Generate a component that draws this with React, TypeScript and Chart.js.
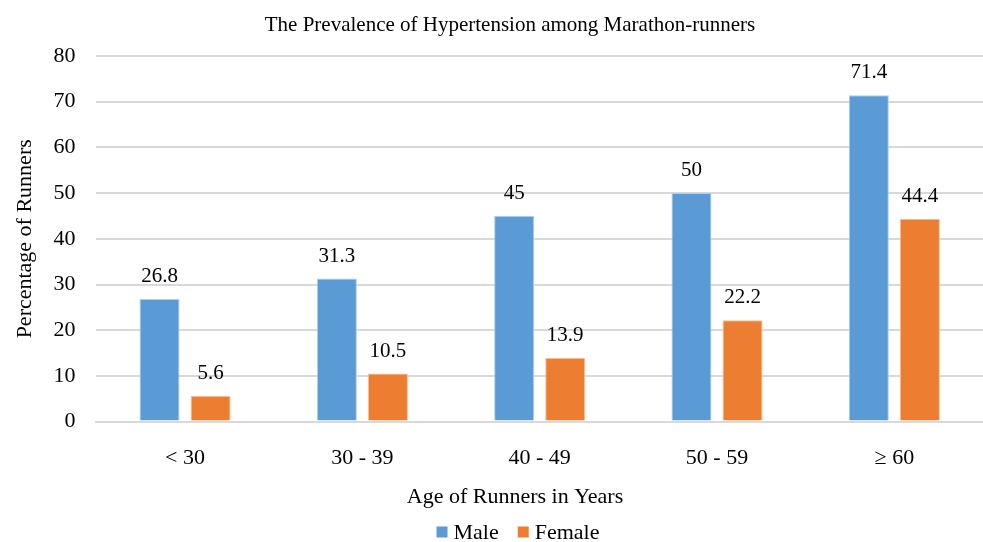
import React, { useEffect, useRef } from "react";
import { Chart, registerables } from "chart.js";

Chart.register(...registerables);

const categories = ["< 30", "30 - 39", "40 - 49", "50 - 59", "≥ 60"];
const maleValues = [26.8, 31.3, 45, 50, 71.4];
const femaleValues = [5.6, 10.5, 13.9, 22.2, 44.4];
const yTicks = [0, 10, 20, 30, 40, 50, 60, 70, 80];
const seriesNames = ["Male", "Female"];
const seriesColors = ["#5B9BD5", "#ED7D31"];
const seriesBorders = ["#ADCDEA", "#F6BE98"];

const chartTitle = "The Prevalence of Hypertension among Marathon-runners";
const xTitle = "Age of Runners in Years";
const yTitle = "Percentage of Runners";

const FONT = "'Liberation Serif', 'Times New Roman', serif";

const dataLabelPlugin = {
  id: "dataLabels",
  afterDatasetsDraw(chart: any) {
    const ctx = chart.ctx;
    ctx.save();
    ctx.font = `21px ${FONT}`;
    ctx.fillStyle = "#000";
    ctx.textAlign = "center";
    ctx.textBaseline = "bottom";
    chart.data.datasets.forEach((ds: any, i: number) => {
      const meta = chart.getDatasetMeta(i);
      meta.data.forEach((el: any, j: number) => {
        ctx.fillText(String(ds.data[j]), el.x, el.y - 12);
      });
    });
    ctx.restore();
  },
};

// Chart title, x-axis title and legend, drawn in the reserved margins
const textPlugin = {
  id: "textBlocks",
  afterDraw(chart: any) {
    const ctx = chart.ctx;
    ctx.save();
    ctx.fillStyle = "#000";
    ctx.textBaseline = "middle";
    ctx.textAlign = "center";
    ctx.font = `21px ${FONT}`;
    ctx.fillText(chartTitle, 510, 25);
    ctx.font = `22px ${FONT}`;
    ctx.fillText(xTitle, 515, 497);

    // legend
    ctx.textAlign = "left";
    const box = 11;
    const gapBoxText = 6;
    const gapItems = 19;
    const widths = chart.data.datasets.map((ds: any) => ctx.measureText(ds.label).width);
    const total =
      widths.reduce((a: number, w: number) => a + box + gapBoxText + w, 0) +
      gapItems * (widths.length - 1);
    let x = 518 - total / 2;
    const y = 532;
    chart.data.datasets.forEach((ds: any, i: number) => {
      ctx.fillStyle = ds.backgroundColor;
      ctx.fillRect(x, y - box / 2, box, box);
      x += box + gapBoxText;
      ctx.fillStyle = "#000";
      ctx.fillText(ds.label, x, y + 1);
      x += widths[i] + gapItems;
    });
    ctx.restore();
  },
};

export default function App() {
  const ref = useRef<HTMLCanvasElement>(null);
  useEffect(() => {
    document.body.style.margin = "0";
    const datasets = [maleValues, femaleValues].map((vals, i) => ({
      label: seriesNames[i],
      data: vals,
      backgroundColor: seriesColors[i],
      borderColor: seriesBorders[i],
      borderWidth: 1,
      barPercentage: 0.784,
      categoryPercentage: 0.576,
    }));
    const chart = new Chart(ref.current!, {
      type: "bar",
      data: { labels: categories, datasets },
      options: {
        responsive: false,
        animation: false,
        layout: { padding: { left: 12, right: 0, top: 56, bottom: 56 } },
        plugins: {
          title: { display: false },
          legend: { display: false },
          tooltip: { enabled: false },
        },
        scales: {
          x: {
            grid: { display: false },
            border: { color: "#D9D9D9", width: 2 },
            ticks: {
              color: "#000",
              font: { family: FONT, size: 22 },
              padding: 15,
            },
          },
          y: {
            min: 0,
            max: 80,
            afterBuildTicks: (axis: any) => {
              axis.ticks = yTicks.map((v) => ({ value: v }));
            },
            grid: { color: "#D9D9D9", lineWidth: 2, drawTicks: false },
            border: { display: false },
            ticks: {
              color: "#000",
              font: { family: FONT, size: 22 },
              padding: 21,
            },
            title: {
              display: true,
              text: yTitle,
              color: "#000",
              font: { family: FONT, size: 22 },
              padding: { top: 0, bottom: -6 },
            },
          },
        },
      },
      plugins: [dataLabelPlugin, textPlugin],
    } as any);
    return () => chart.destroy();
  }, []);
  return <canvas ref={ref} width={983} height={542} style={{ display: "block" }} />;
}
